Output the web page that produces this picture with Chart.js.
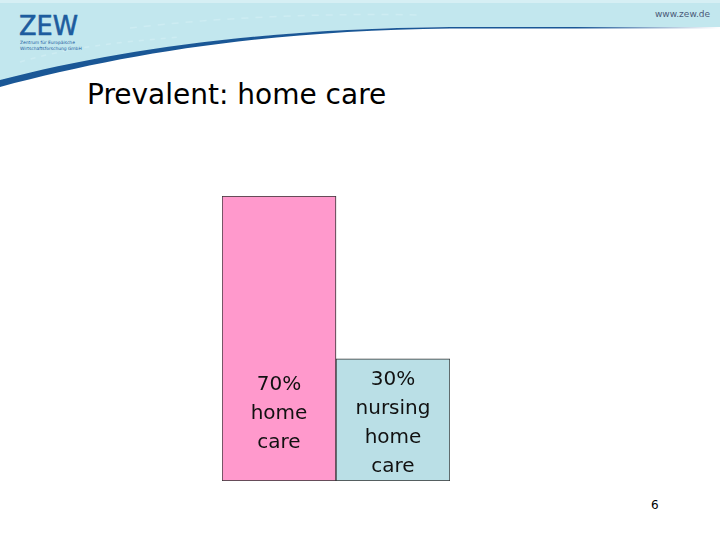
<!DOCTYPE html>
<html>
<head>
<meta charset="utf-8">
<script src="https://cdn.jsdelivr.net/npm/chart.js@4/dist/chart.umd.min.js"></script>
<style>
  html, body { margin: 0; padding: 0; background: #fff; }
  #slide { position: relative; width: 720px; height: 540px; overflow: hidden; font-family: "DejaVu Sans", Verdana, sans-serif; }
  #header { position: absolute; left: 0; top: 0; }
  #title { position: absolute; left: 87px; top: 78px; font-size: 28px; color: #000; white-space: nowrap; }
  #page { position: absolute; left: 651px; top: 498px; font-size: 12px; color: #000; }
  #chartBox { position: absolute; left: 222px; top: 196px; width: 228px; height: 285px; }
</style>
</head>
<body>
<div id="slide">
  <svg id="header" width="720" height="100" viewBox="0 0 720 100">
    <defs>
      <linearGradient id="fadeLine" x1="0" y1="0" x2="1" y2="0">
        <stop offset="0" stop-color="#1a5796"/>
        <stop offset="0.8" stop-color="#1a5796"/>
        <stop offset="1" stop-color="#1a5796" stop-opacity="0"/>
      </linearGradient>
    </defs>
    <path d="M0,0 L720,0 L720,27 L450,27 C260,29 120,50 0,82 Z" fill="#c2e7ee"/>
    <path d="M0,0 L720,0 L720,3 L0,3 Z" fill="#d6eff4"/>
    <path d="M20,62 C70,47 120,42 180,37" stroke="#cdecf2" stroke-width="1.5" fill="none" stroke-dasharray="5 6"/>
    <path d="M130,28 C220,17 330,13 420,15" stroke="#cdecf2" stroke-width="1.5" fill="none" stroke-dasharray="7 7"/>
    <path d="M0,80 C120,49 260,29 450,27 L720,27 L720,28.5 L450,28.5 C262,31 124,54 0,87 Z" fill="url(#fadeLine)"/>
    <text x="19" y="35" font-family="DejaVu Sans, sans-serif" font-size="27" fill="#1d5c9e" stroke="#1d5c9e" stroke-width="0.6" textLength="59" lengthAdjust="spacingAndGlyphs">ZEW</text>
    <text x="20" y="44" font-family="DejaVu Sans, sans-serif" font-size="4.4" fill="#1d5c9e">Zentrum für Europäische</text>
    <text x="20" y="49.5" font-family="DejaVu Sans, sans-serif" font-size="4.4" fill="#1d5c9e">Wirtschaftsforschung GmbH</text>
    <text x="655" y="17" font-family="DejaVu Sans, sans-serif" font-size="9" fill="#4a5a78">www.zew.de</text>
  </svg>
  <div id="title">Prevalent: home care</div>
  <div id="chartBox"><canvas id="chart"></canvas></div>
  <div id="page">6</div>
</div>
<script>
const categories = ['home care', 'nursing home care'];
const shares = [70, 30];
const barLabels = [['70%', 'home', 'care'], ['30%', 'nursing', 'home', 'care']];
const barColors = ['#ff99cc', '#badfe6'];

// draws the multi-line share labels inside each bar
const insideLabels = {
  id: 'insideLabels',
  afterDatasetsDraw(chart, args, opts) {
    const ctx = chart.ctx;
    const y = chart.scales.y;
    const meta = chart.getDatasetMeta(0);
    ctx.save();
    ctx.font = '20px "DejaVu Sans", Verdana, sans-serif';
    ctx.fillStyle = '#111';
    ctx.textAlign = 'center';
    ctx.textBaseline = 'middle';
    meta.data.forEach((bar, i) => {
      const lines = barLabels[i];
      const mid = y.getPixelForValue(opts.centers[i]);
      const top = mid - (lines.length - 1) * opts.lineHeight / 2;
      lines.forEach((t, j) => ctx.fillText(t, bar.x, top + j * opts.lineHeight));
    });
    ctx.restore();
  }
};

new Chart(document.getElementById('chart'), {
  type: 'bar',
  data: {
    labels: categories,
    datasets: [{
      data: shares,
      backgroundColor: barColors,
      borderColor: '#333',
      borderWidth: 1,
      borderSkipped: false,
      categoryPercentage: 1,
      barPercentage: 1
    }]
  },
  options: {
    responsive: true,
    maintainAspectRatio: false,
    animation: false,
    layout: { padding: 0 },
    scales: {
      x: { display: false },
      y: { display: false, min: 0, max: 70 }
    },
    plugins: {
      legend: { display: false },
      tooltip: { enabled: false },
      insideLabels: { centers: [16.6, 14.2], lineHeight: 29 }
    }
  },
  plugins: [insideLabels]
});
</script>
</body>
</html>
